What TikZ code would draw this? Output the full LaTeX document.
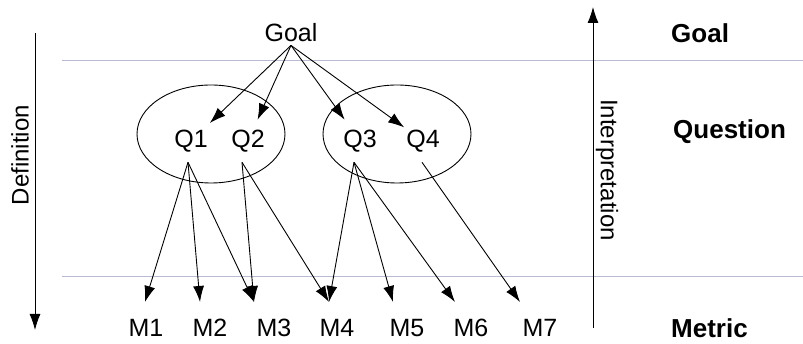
\documentclass[tikz,border=0pt]{standalone}
\usepackage{fontspec}
\setmainfont{Liberation Sans}
\usetikzlibrary{arrows.meta}
\definecolor{rulegray}{RGB}{185,188,208}

\begin{document}
\begin{tikzpicture}[x=1pt, y=1pt,
    lbl/.style={font=\fontsize{25}{29}\selectfont, inner sep=2pt},
    level/.style={font=\fontsize{26}{30}\selectfont\bfseries, anchor=west, inner sep=0pt},
    link/.style={-{Latex[length=16pt,width=11pt]}, line width=0.9pt}]
  \useasboundingbox (0,0) rectangle (803,344);

  % level separators
  \draw[rulegray, line width=0.8pt] (62,284) -- (803,284);
  \draw[rulegray, line width=0.8pt] (62,68) -- (803,68);

  % top-down definition and bottom-up interpretation
  \coordinate (deftop) at (35,311);
  \coordinate (defbot) at (35,14);
  \draw[link] (deftop) -- (defbot);
  \node[lbl, font=\fontsize{24}{28}\selectfont, rotate=90] (definition) at (20,189) {Definition};

  \coordinate (intbot) at (593,16);
  \coordinate (inttop) at (593,337);
  \draw[link] (intbot) -- (inttop);
  \node[lbl, font=\fontsize{24}{28}\selectfont, rotate=-90] (interpretation) at (607,174) {Interpretation};

  \node[level] (lgoal) at (671,311) {Goal};
  \node[level] (lquestion) at (673,212) {Question};
  \node[level] (lmetric) at (671,16) {Metric};

  % goal and questions
  \node[lbl, inner sep=3pt] (goal) at (291,311) {Goal};
  \node[lbl, inner xsep=2pt, inner ysep=10pt] (q1) at (191,203) {Q1};
  \node[lbl, inner xsep=2pt, inner ysep=10pt] (q2) at (248,203) {Q2};
  \node[lbl, inner xsep=2pt, inner ysep=10pt] (q3) at (360,203) {Q3};
  \node[lbl, inner xsep=2pt, inner ysep=10pt] (q4) at (423,203) {Q4};
  \draw[line width=0.9pt] (211,210) ellipse [x radius=74, y radius=49];
  \draw[line width=0.9pt] (397,210) ellipse [x radius=74, y radius=49];

  \foreach \q in {q1, q2, q3, q4}
    \draw[link] (goal.south) -- (\q);

  % metrics
  \foreach \i/\x in {1/146, 2/210, 3/274, 4/337, 5/407, 6/471, 7/540}
    \node[lbl] (m\i) at (\x,16) {M\i};
  \foreach \i/\x in {1/145, 2/200, 3/254, 4/329, 5/393, 6/455, 7/520}
    \coordinate (m\i tip) at (\x,42);

  \foreach \s/\dx/\t in {q1/-3/m1, q1/-3/m2, q1/-3/m3, q2/-6/m3, q2/-6/m4,
                         q3/-6/m4, q3/-6/m5, q3/-6/m6, q4/-1/m7}
    \draw[link] ([xshift=\dx pt]\s.south) -- (\t tip);
\end{tikzpicture}
\end{document}
